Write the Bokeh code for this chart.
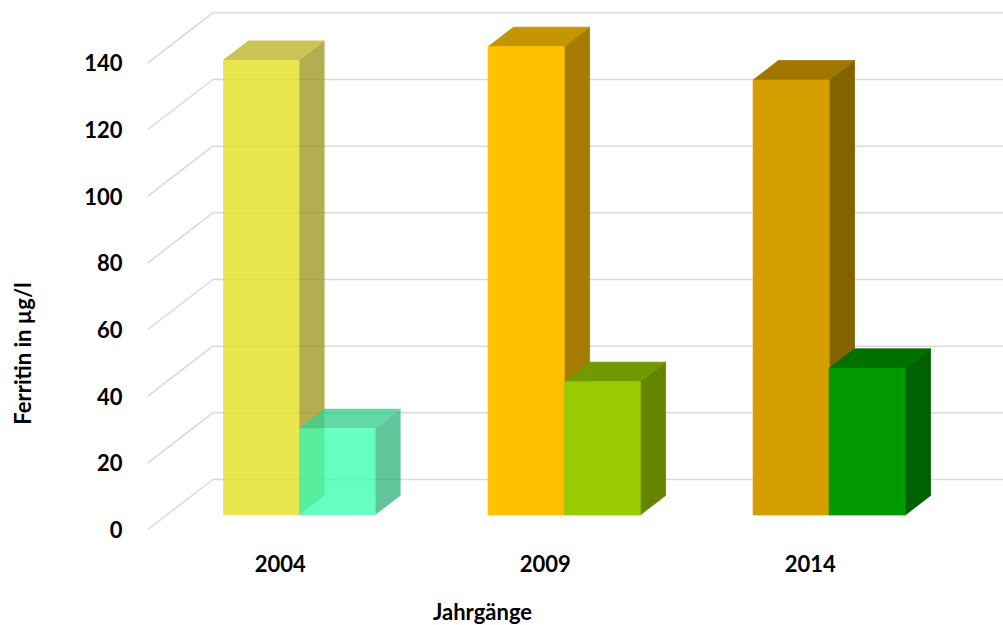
import math

from bokeh.plotting import figure
from bokeh.models import Range1d, LinearAxis, FixedTicker, ColumnDataSource, Label
from bokeh.embed import file_html
from bokeh.resources import INLINE

# ---- data -------------------------------------------------------------
years = ["2004", "2009", "2014"]
ferritin_left = [136.5, 140.5, 130.5]   # first column of each year
ferritin_right = [26.0, 40.0, 44.0]     # second column of each year
y_ticks = [0, 20, 40, 60, 80, 100, 120, 140]

# ---- styling ------------------------------------------------------------
# (front, top, side) shades for each column
colors_left = [("#E3E024", "#BBB52B", "#A09A24"),
               ("#FFC000", "#C49500", "#A67C00"),
               ("#D49E00", "#9E7600", "#836200")]
colors_right = [("#40FFB0", "#38CF90", "#38B682"),
                ("#99CC00", "#739900", "#648500"),
                ("#009900", "#007000", "#006100")]
group_alpha = [0.8, 1.0, 1.0]

FONT = "Lato"
BAR_W = 0.287          # column width in category units
DEPTH_X = 0.2453       # oblique depth of the floor (x, category units)
DEPTH_Y = 15.0         # oblique depth of the floor (y, value units)
F_FRONT, F_BACK = 0.29, 0.68   # depth slice occupied by the columns
X_EDGE, Y_EDGE = -0.005, -0.3  # where the value / category axes sit

# the plot area spans the whole canvas; axes are pinned inside it
p = figure(width=1003, height=625,
           x_range=Range1d(-0.556, 3.229), y_range=Range1d(-28.8, 158.7),
           x_axis_location=None, y_axis_location=None,
           min_border_left=0, min_border_right=0,
           min_border_top=0, min_border_bottom=0,
           output_backend="svg", toolbar_location=None)
p.outline_line_color = None
p.background_fill_color = "white"
p.border_fill_color = "white"
p.grid.visible = False

# ---- gridlines: diagonal along the side wall, then across the back wall --
gx, gy = [], []
for t in y_ticks:
    gx.append([0, DEPTH_X, 3.4])
    gy.append([t, t + DEPTH_Y, t + DEPTH_Y])
p.multi_line(xs=gx, ys=gy, line_color="#D9D9D9", line_width=1.5)


# ---- 3D columns -----------------------------------------------------------
def column_faces(x0, v, w):
    dx0, dy0 = F_FRONT * DEPTH_X, F_FRONT * DEPTH_Y
    dx1, dy1 = F_BACK * DEPTH_X, F_BACK * DEPTH_Y
    side = ([x0 + w + dx0, x0 + w + dx1, x0 + w + dx1, x0 + w + dx0],
            [dy0, dy1, v + dy1, v + dy0])
    top = ([x0 + dx0, x0 + w + dx0, x0 + w + dx1, x0 + dx1],
           [v + dy0, v + dy0, v + dy1, v + dy1])
    front = ([x0 + dx0, x0 + w + dx0, x0 + w + dx0, x0 + dx0],
             [dy0, dy0, v + dy0, v + dy0])
    return [side, top, front]


xs, ys, fills, alphas, lalphas = [], [], [], [], []
for i in range(len(years)):
    center = i + 0.5
    for x0, v, cols in ((center - BAR_W, ferritin_left[i], colors_left[i]),
                        (center, ferritin_right[i], colors_right[i])):
        faces = column_faces(x0, v, BAR_W)
        for (fx, fy), col in zip(faces, (cols[2], cols[1], cols[0])):
            xs.append(fx)
            ys.append(fy)
            fills.append(col)
            alphas.append(group_alpha[i])
            lalphas.append(0.0 if group_alpha[i] < 1 else 1.0)

src = ColumnDataSource(dict(xs=xs, ys=ys, fill=fills, alpha=alphas, lalpha=lalphas))
p.patches("xs", "ys", source=src, fill_color="fill", fill_alpha="alpha",
          line_color="fill", line_alpha="lalpha", line_width=0.8)


# ---- axes -----------------------------------------------------------------
def style_axis(ax):
    ax.axis_line_color = None
    ax.major_tick_line_color = None
    ax.minor_tick_line_color = None
    ax.major_tick_out = 0
    ax.major_tick_in = 0
    ax.major_label_text_font = FONT
    ax.major_label_text_font_style = "bold"
    ax.major_label_text_font_size = "22px"
    ax.major_label_text_color = "#000000"


yax = LinearAxis(ticker=FixedTicker(ticks=y_ticks), fixed_location=X_EDGE)
style_axis(yax)
yax.major_label_standoff = 24
p.add_layout(yax, "left")

xax = LinearAxis(ticker=FixedTicker(ticks=[i + 0.5 for i in range(len(years))]),
                 major_label_overrides={i + 0.5: y for i, y in enumerate(years)},
                 fixed_location=Y_EDGE)
style_axis(xax)
xax.major_label_standoff = 24
p.add_layout(xax, "below")

# axis titles
title_style = dict(text_font=FONT, text_font_style="bold", text_font_size="22px",
                   text_color="#000000", text_align="center", text_baseline="middle")
p.add_layout(Label(x=-0.473, y=52.8, angle=math.pi / 2,
                   text="Ferritin in µg/l", **title_style))
p.add_layout(Label(x=1.263, y=-24.6, text="Jahrgänge", **title_style))

open("out.html", "w").write(file_html(p, INLINE))
